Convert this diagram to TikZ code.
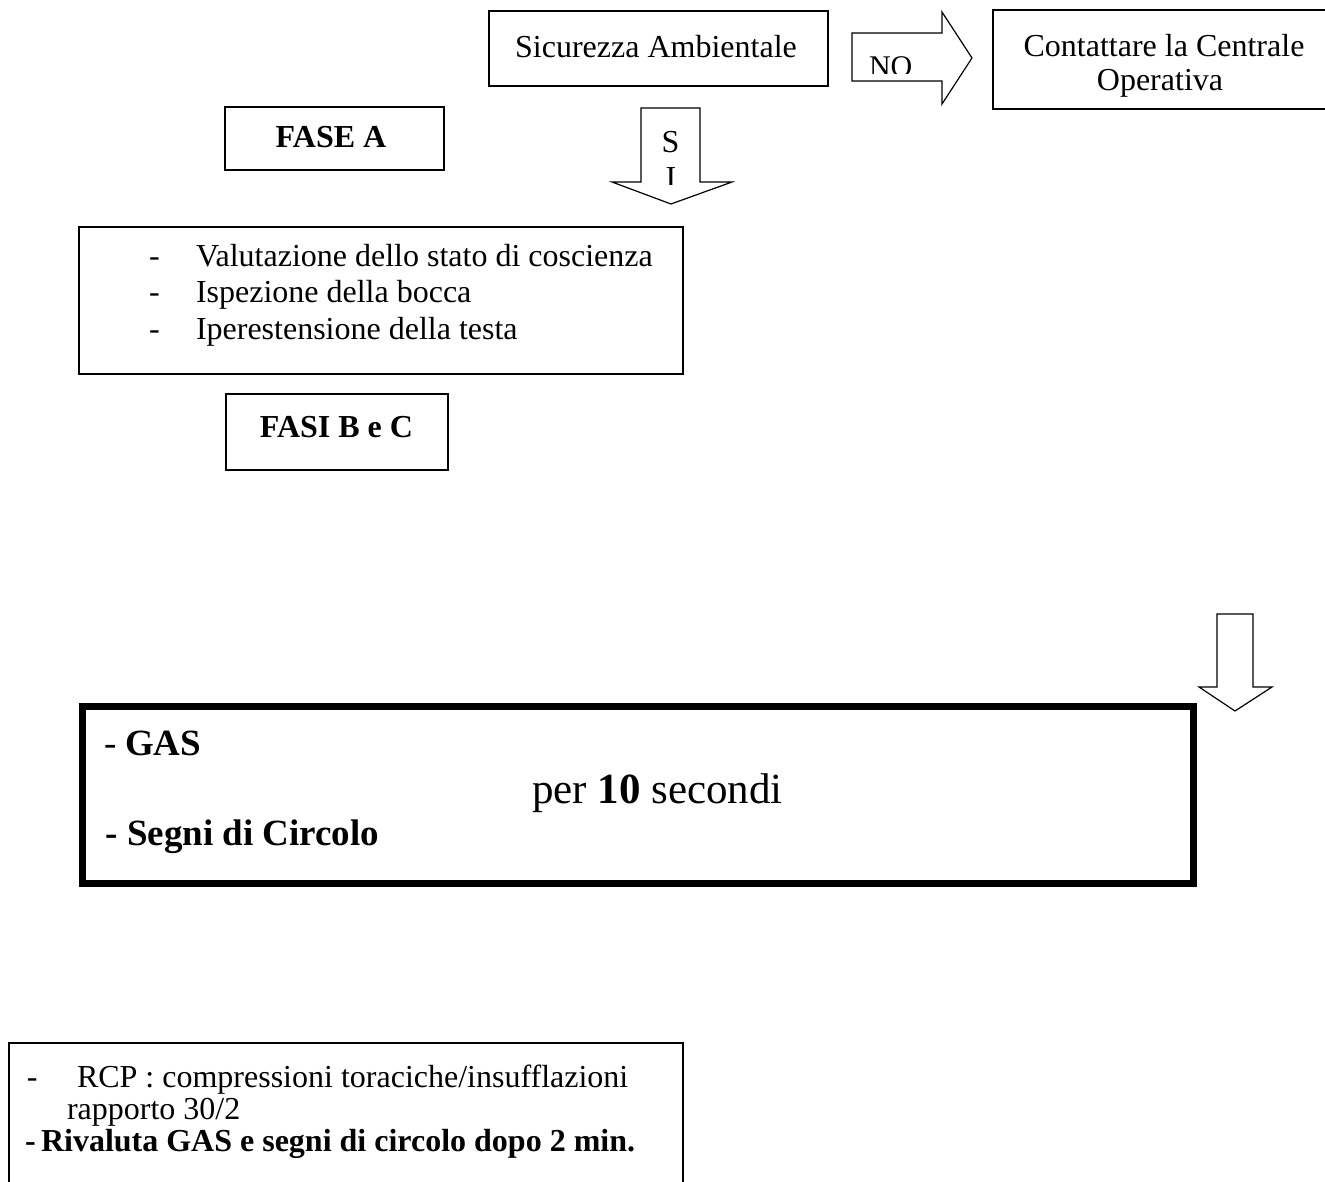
\documentclass[tikz,border=0pt]{standalone}
\usepackage{fontspec}
\setmainfont{Liberation Serif}
\newcommand{\myfs}[1]{\fontsize{#1}{#1}\selectfont}
\begin{document}
\begin{tikzpicture}[x=1pt,y=-1pt,
  box/.style={draw, line width=1.6pt, inner sep=0pt, outer sep=0pt},
  heavybox/.style={draw, line width=7pt, inner sep=0pt, outer sep=0pt},
  txt/.style={inner sep=0pt, outer sep=0pt, font=\myfs{32}},
  btxt/.style={inner sep=0pt, outer sep=0pt, font=\myfs{32}\bfseries},
  blockarrow/.style={draw, line width=1.2pt, line join=miter, fill=white}]
\useasboundingbox (0,0) rectangle (1325,1182);
\clip (0,0) rectangle (1325,1182);

% --- top row
\node[box, minimum width=339pt, minimum height=75pt] (sicbox) at (658.5,48.5) {};
\node[txt, anchor=base] (sic) at (656,58) {Sicurezza Ambientale};

\node[box, minimum width=360pt, minimum height=99pt] (cobox) at (1173,59.5) {};
\node[txt, anchor=base] (co1) at (1164,57) {Contattare la Centrale};
\node[txt, anchor=base] (co2) at (1160,91) {Operativa};

% NO block arrow
\draw[blockarrow] (852,33) -- (942,33) -- (942,12) -- (972,58) -- (942,104) -- (942,81) -- (852,81) -- cycle;
\begin{scope}
  \clip (852,33) rectangle (942,74);
  \node[txt, font=\myfs{30}, anchor=base west] (no) at (869,77) {NO};
\end{scope}

% SI block arrow
\draw[blockarrow] (641,108) -- (700,108) -- (700,182) -- (732,182) -- (671,204) -- (612,182) -- (641,182) -- cycle;
\node[txt, anchor=base] (s) at (670.5,153) {S};
\begin{scope}
  \clip (641,108) rectangle (700,185);
  \node[txt, anchor=base] (i) at (671,189) {I};
\end{scope}

% FASE A
\node[box, minimum width=219pt, minimum height=63pt] (faseabox) at (334.5,138.5) {};
\node[btxt, anchor=base] (fasea) at (331,148) {FASE A};

% list box
\node[box, minimum width=604pt, minimum height=147pt] (listbox) at (381,300.5) {};
\node[txt, anchor=base west] (d1) at (149,267) {-};
\node[txt, anchor=base west] (l1) at (196,267) {Valutazione dello stato di coscienza};
\node[txt, anchor=base west] (d2) at (149,303) {-};
\node[txt, anchor=base west] (l2) at (196,303) {Ispezione della bocca};
\node[txt, anchor=base west] (d3) at (149,339) {-};
\node[txt, anchor=base west] (l3) at (196,339) {Iperestensione della testa};

% FASI B e C
\node[box, minimum width=222pt, minimum height=76pt] (fasibox) at (337,432) {};
\node[btxt, anchor=base] (fasi) at (336.5,437) {FASI B e C};

% right down arrow
\draw[blockarrow] (1217,614) -- (1253,614) -- (1253,687) -- (1272,687) -- (1235,711) -- (1199,687) -- (1217,687) -- cycle;

% big box
\node[heavybox, minimum width=1111pt, minimum height=176.5pt] (bigbox) at (638,794.75) {};
\node[txt, font=\myfs{37}, anchor=base west] (gd) at (104,755) {-};
\node[btxt, font=\myfs{37}\bfseries, anchor=base west] (gas) at (125,755) {GAS};
\node[btxt, font=\myfs{37}\bfseries, anchor=base west] (sd) at (105,845) {-};
\node[btxt, font=\myfs{37}\bfseries, anchor=base west] (segni) at (127,845) {Segni di Circolo};
\node[txt, font=\myfs{43}, anchor=base west] (per) at (532,803) {per \textbf{10} secondi};

% bottom box
\node[box, minimum width=674pt, minimum height=207pt] (botbox) at (346,1146.5) {};
\node[txt, anchor=base west] (bd1) at (27,1087) {-};
\node[txt, anchor=base west] (b1) at (77,1087) {RCP : compressioni toraciche/insufflazioni};
\node[txt, anchor=base west] (b2) at (67,1119) {rapporto 30/2};
\node[btxt, anchor=base west] (bd3) at (25,1151) {-};
\node[btxt, anchor=base west] (b3) at (41,1151) {Rivaluta GAS e segni di circolo dopo 2 min.};
\end{tikzpicture}
\end{document}
